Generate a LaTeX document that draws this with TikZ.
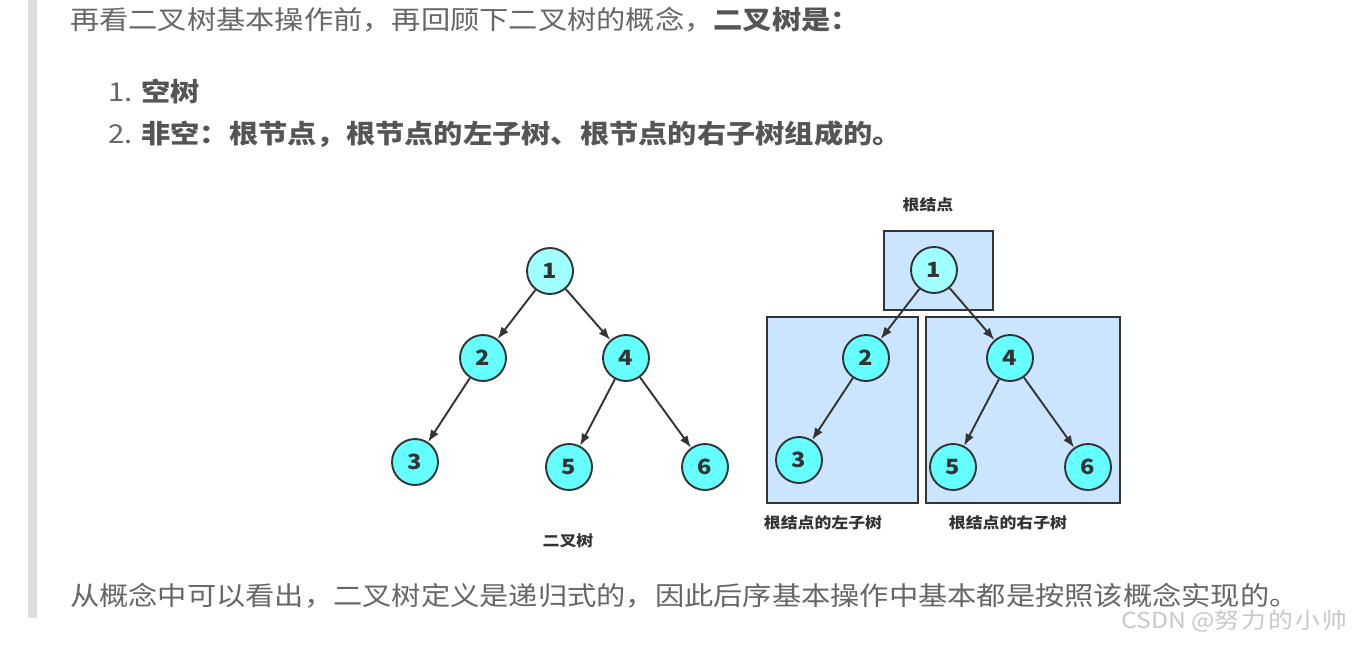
\documentclass[tikz,border=0pt]{standalone}
\usepackage{fontspec}
\setmainfont{Noto Sans CJK SC}[FakeStretch=1.125]
\usetikzlibrary{arrows.meta}

\definecolor{barGray}{HTML}{DDDDDD}
\definecolor{textGray}{HTML}{666666}
\definecolor{boldGray}{HTML}{555555}
\definecolor{lineDark}{HTML}{333333}
\definecolor{nodeCyan}{HTML}{66FFFF}
\definecolor{rootCyan}{HTML}{A0FFFF}
\definecolor{boxBlue}{HTML}{CCE5FF}
\definecolor{markGray}{HTML}{C8C8C8}

\begin{document}
\begin{tikzpicture}[x=1pt, y=-1pt,
        prose/.style={anchor=west, inner sep=0pt, font=\fontsize{26}{30}\selectfont, text=textGray},
        treenode/.style={circle, draw=lineDark, line width=1.9pt, fill=nodeCyan, minimum size=46pt, inner sep=0pt, font=\fontsize{21}{22}\selectfont\bfseries, text=lineDark},
        rootnode/.style={treenode, fill=rootCyan},
        edge/.style={-{Latex[length=12pt,width=9pt]}, line width=1.9pt, draw=lineDark},
        subtree/.style={draw=lineDark, line width=1.9pt, fill=boxBlue, inner sep=0pt},
        caption/.style={inner sep=0pt, font=\fontsize{15}{16}\selectfont\bfseries, text=lineDark},
        watermark/.style={anchor=west, inner sep=0pt, font=\fontsize{22}{24}\selectfont, text=markGray}
      ]
      \useasboundingbox (0,0) rectangle (1357,645);
      \fill[white] (0,0) rectangle (1357,645);
      \fill[barGray] (28,0) rectangle (37,618);

      % text around the figure
      \node[prose] (intro) at (70,20) {再看二叉树基本操作前，再回顾下二叉树的概念，\textcolor{boldGray}{\bfseries 二叉树是：}};
      \node[prose] (item1) at (108,91) {1. \textcolor{boldGray}{\bfseries 空树}};
      \node[prose] (item2) at (108,134) {2. \textcolor{boldGray}{\bfseries 非空：根节点，根节点的左子树、根节点的右子树组成的。}};
      \node[prose] (outro) at (70,596) {从概念中可以看出，二叉树定义是递归式的，因此后序基本操作中基本都是按照该概念实现的。};
      \node[watermark] (mark) at (1121,621) {CSDN @{\addfontfeature{LetterSpace=10}努力的小帅}};

      % left: the whole tree
      \node[rootnode] (l1) at (550,271) {1};
      \node[treenode] (l2) at (483,358) {2};
      \node[treenode] (l4) at (626,358) {4};
      \node[treenode] (l3) at (415,462) {3};
      \node[treenode] (l5) at (569,467) {5};
      \node[treenode] (l6) at (705,467) {6};
      \node[caption] (ltitle) at (568,541) {二叉树};

      \draw[edge] (l1) -- (l2);
      \draw[edge] (l1) -- (l4);
      \draw[edge] (l2) -- (l3);
      \draw[edge] (l4) -- (l5);
      \draw[edge] (l4) -- (l6);

      % right: root and its two subtrees
      \node[subtree, minimum width=109pt, minimum height=79pt] (rootbox) at (938.5,270.5) {};
      \node[subtree, minimum width=151pt, minimum height=186pt] (leftbox) at (842.5,410) {};
      \node[subtree, minimum width=194pt, minimum height=186pt] (rightbox) at (1023,410) {};

      \node[rootnode] (r1) at (934,270) {1};
      \node[treenode] (r2) at (866,358) {2};
      \node[treenode] (r4) at (1010,358) {4};
      \node[treenode] (r3) at (799,460) {3};
      \node[treenode] (r5) at (953,467) {5};
      \node[treenode] (r6) at (1088,467) {6};

      \draw[edge] (r1) -- (r2);
      \draw[edge] (r1) -- (r4);
      \draw[edge] (r2) -- (r3);
      \draw[edge] (r4) -- (r5);
      \draw[edge] (r4) -- (r6);

      \node[caption] (roottitle) at (928,205) {根结点};
      \node[caption] (lefttitle) at (823,523) {根结点的左子树};
      \node[caption] (righttitle) at (1008,523) {根结点的右子树};
    \end{tikzpicture}
\end{document}
